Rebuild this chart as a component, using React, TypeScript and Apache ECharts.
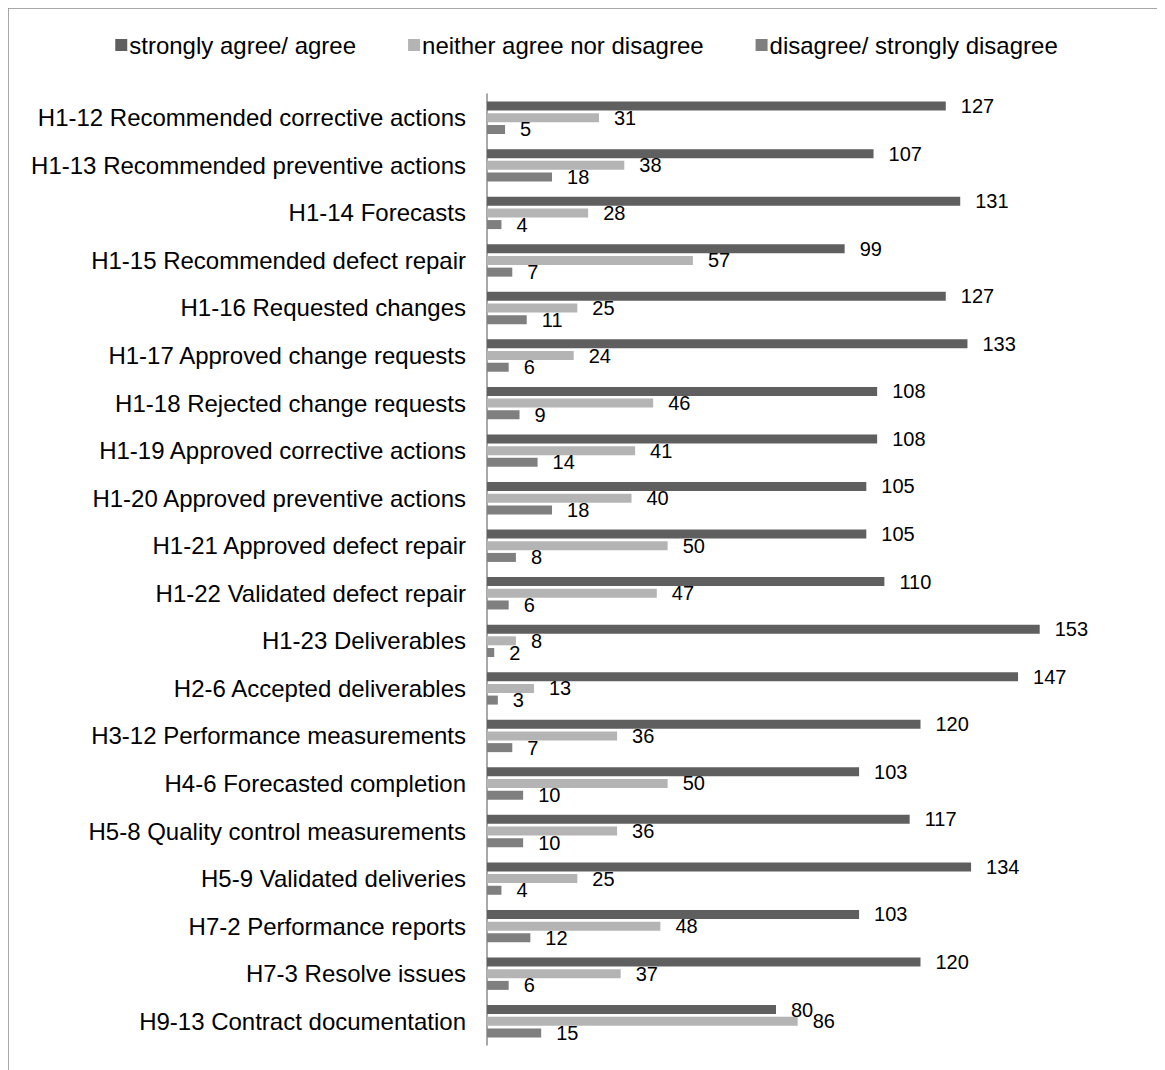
import React, { useEffect, useRef } from "react";
import * as echarts from "echarts";

const categories = [
  "H1-12 Recommended corrective actions",
  "H1-13 Recommended preventive actions",
  "H1-14 Forecasts",
  "H1-15 Recommended defect repair",
  "H1-16 Requested changes",
  "H1-17 Approved change requests",
  "H1-18 Rejected change requests",
  "H1-19 Approved corrective actions",
  "H1-20 Approved preventive actions",
  "H1-21 Approved defect repair",
  "H1-22 Validated defect repair",
  "H1-23 Deliverables",
  "H2-6 Accepted deliverables",
  "H3-12 Performance measurements",
  "H4-6 Forecasted completion",
  "H5-8 Quality control measurements",
  "H5-9 Validated deliveries",
  "H7-2 Performance reports",
  "H7-3 Resolve issues",
  "H9-13 Contract documentation",
];
const agree = [127, 107, 131, 99, 127, 133, 108, 108, 105, 105, 110, 153, 147, 120, 103, 117, 134, 103, 120, 80];
const neither = [31, 38, 28, 57, 25, 24, 46, 41, 40, 50, 47, 8, 13, 36, 50, 36, 25, 48, 37, 86];
const disagree = [5, 18, 4, 7, 11, 6, 9, 14, 18, 8, 6, 2, 3, 7, 10, 10, 4, 12, 6, 15];
const seriesNames = ["strongly agree/ agree", "neither agree nor disagree", "disagree/ strongly disagree"];
const colors = ["#5f5f5f", "#b4b4b4", "#7f7f7f"];

export default function App() {
  const ref = useRef<HTMLDivElement>(null);
  useEffect(() => {
    const chart = echarts.init(ref.current!, null, { renderer: "svg" });
    const font = "'Liberation Sans', Arial, sans-serif";
    const mk = (name: string, data: number[], color: string) => ({
      name,
      type: "bar",
      data,
      barWidth: 9,
      barGap: "30%",
      itemStyle: { color },
      label: {
        show: true,
        position: "right",
        distance: 15,
        fontSize: 20,
        color: "#000",
        fontFamily: font,
      },
    });
    chart.setOption({
      animation: false,
      textStyle: { fontFamily: font },
      graphic: [
        {
          type: "rect",
          shape: { x: 0, y: 0, width: 2000, height: 2000 },
          style: { fill: "none", stroke: "#8c8c8c", lineWidth: 1.5 },
          silent: true,
        },
      ],
      legend: {
        top: 20,
        left: "center",
        itemWidth: 12,
        itemHeight: 12,
        itemGap: 52,
        icon: "rect",
        textStyle: { fontSize: 24, color: "#000", fontFamily: font, padding: [0, 0, 0, -3] },
        data: seriesNames,
      },
      grid: { left: 479, top: 86, height: 951, width: 578, containLabel: false },
      xAxis: { type: "value", min: 0, max: 160, show: false },
      yAxis: {
        type: "category",
        inverse: true,
        data: categories,
        axisLine: { lineStyle: { color: "#8c8c8c", width: 1.5 } },
        axisTick: { show: false },
        axisLabel: { fontSize: 24, color: "#000", margin: 21, fontFamily: font },
      },
      series: [
        mk(seriesNames[0], agree, colors[0]),
        mk(seriesNames[1], neither, colors[1]),
        mk(seriesNames[2], disagree, colors[2]),
      ],
    });
    return () => chart.dispose();
  }, []);
  return <div ref={ref} style={{ width: 1157, height: 1062, overflow: "hidden" }} />;
}
